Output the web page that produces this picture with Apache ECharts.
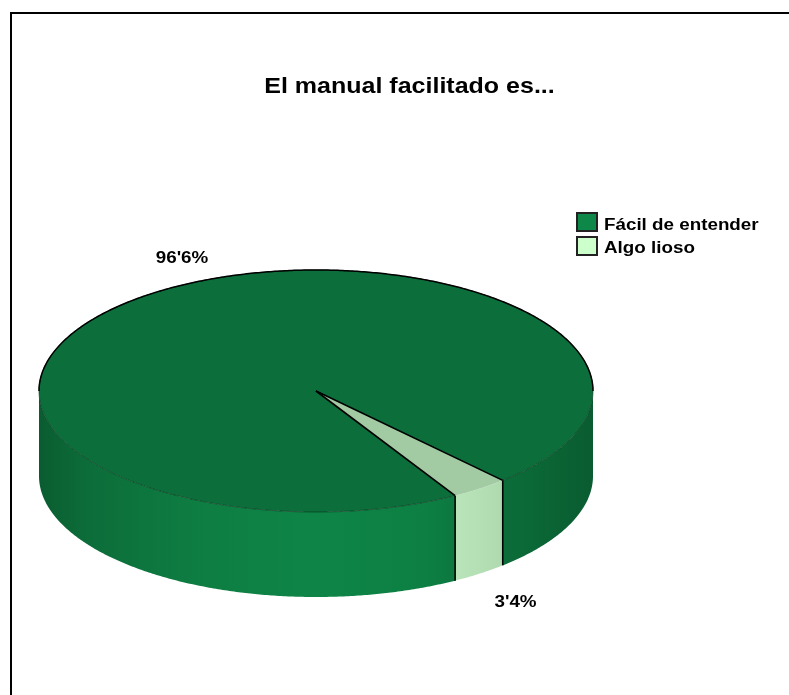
<!DOCTYPE html>
<html>
<head>
<meta charset="utf-8">
<style>html,body{margin:0;padding:0;background:#fff}#c{width:789px;height:695px}</style>
<script src="https://cdn.jsdelivr.net/npm/echarts@6/dist/echarts.min.js"></script>
</head>
<body>
<div id="c"></div>
<script>
const categories = ["Fácil de entender", "Algo lioso"];
const values = [96.6, 3.4];
const valueLabels = ["96'6%", "3'4%"];
const titleText = "El manual facilitado es...";

const legendColors = ["#0d8848", "#ccffcc"];
const topColors = ["#0c6e3a", "#a3cba3"];
const labelPos = [[182, 259], [515.5, 603]];
const legendRects = [[577, 213, 20, 18], [577, 237, 20, 18]];
const legendTextY = [226, 249];
const CX = 316, CY = 391, RX = 277, RY = 121, DEPTH = 85, START = 59.85;
const FONT = '"Liberation Sans", Arial, sans-serif';
const total = values.reduce((a, b) => a + b, 0);

function pt(deg, dy) {
  const r = deg * Math.PI / 180;
  return [CX + RX * Math.cos(r), CY + RY * Math.sin(r) + (dy || 0)];
}
function arc(a0, a1, dy) {
  const n = Math.max(2, Math.ceil(Math.abs(a1 - a0) * 2));
  const out = [];
  for (let i = 0; i <= n; i++) out.push(pt(a0 + (a1 - a0) * i / n, dy));
  return out;
}
function sideFill(i) {
  if (i === 1) {
    return {type: 'linear', x: pt(START)[0], y: 0, x2: pt(START - 12.24)[0], y2: 0, global: true,
      colorStops: [{offset: 0, color: '#bae4ba'}, {offset: 1, color: '#afd9af'}]};
  }
  return {type: 'linear', x: CX - RX, y: 0, x2: CX + RX, y2: 0, global: true,
    colorStops: [
      {offset: 0, color: '#0a5c30'}, {offset: 0.08, color: '#0c6c39'},
      {offset: 0.28, color: '#0e7d42'}, {offset: 0.5, color: '#0e8547'},
      {offset: 0.7, color: '#0d7f43'}, {offset: 0.85, color: '#0b6c39'},
      {offset: 1, color: '#0a5c30'}]};
}
function visibleRanges(a0, a1) {
  const res = [];
  for (let k = 0; k < 3; k++) {
    const lo = Math.max(a0, k * 360), hi = Math.min(a1, k * 360 + 180);
    if (hi > lo) res.push([lo, hi]);
  }
  return res;
}
function wideText(text, x, y, size, sx, align) {
  return {type: 'text', silent: true, x, y, scaleX: sx,
    style: {x: 0, y: 0, text, align, verticalAlign: 'middle', font: 'bold ' + size + 'px ' + FONT, fill: '#000'}};
}
function renderSlice(idx) {
  return function (params, api) {
    const v = api.value(0);
    let before = 0;
    for (let i = 0; i < idx; i++) before += values[i];
    const a0 = START + before / total * 360;
    const a1 = a0 + v / total * 360;
    const children = [];
    visibleRanges(a0, a1).forEach(([lo, hi]) => {
      children.push({
        type: 'polygon',
        shape: {points: arc(lo, hi, 0).concat(arc(hi, lo, DEPTH))},
        style: {fill: sideFill(idx), stroke: null}
      });
    });
    children.push({
      type: 'polygon',
      shape: {points: [[CX, CY]].concat(arc(a0, a1, 0))},
      style: {fill: topColors[idx], stroke: idx === 0 ? '#06301a' : null, lineWidth: 0.6}
    });
    if (idx === 0) {
      children.push({type: 'polyline', shape: {points: arc(180, 360, 0)},
        style: {fill: null, stroke: '#000', lineWidth: 1.5}});
    }
    if (idx === 1) {
      [a0, a1].forEach(a => {
        const p = pt(a), q = pt(a, DEPTH);
        children.push({type: 'polyline', shape: {points: [[CX, CY], p]}, style: {fill: null, stroke: '#000', lineWidth: 1.6}});
        children.push({type: 'polyline', shape: {points: [p, q]}, style: {fill: null, stroke: '#000', lineWidth: 1.6}});
      });
    }
    children.push(wideText(valueLabels[idx], labelPos[idx][0], labelPos[idx][1], 16, 1.175, 'center'));
    return {type: 'group', children};
  };
}

const legendGraphics = [];
categories.forEach((name, i) => {
  const r = legendRects[i];
  legendGraphics.push({type: 'rect', silent: true, shape: {x: r[0], y: r[1], width: r[2], height: r[3]},
    style: {fill: legendColors[i], stroke: '#222', lineWidth: 2}});
  legendGraphics.push(wideText(name, 604, legendTextY[i], 16, 1.175, 'left'));
});

const chart = echarts.init(document.getElementById('c'));
chart.setOption({
  animation: false,
  backgroundColor: '#fff',
  graphic: [
    {type: 'polyline', silent: true, shape: {points: [[11, 695], [11, 13], [789, 13]]},
      style: {fill: null, stroke: '#000', lineWidth: 2}},
    wideText(titleText, 409.5, 87, 22, 1.137, 'center')
  ].concat(legendGraphics),
  series: categories.map((name, i) => ({
    type: 'custom', name, coordinateSystem: 'none', silent: true, clip: false,
    itemStyle: {color: legendColors[i]},
    renderItem: renderSlice(i),
    encode: {value: 0},
    data: [[values[i]]]
  }))
});
</script>
</body>
</html>
